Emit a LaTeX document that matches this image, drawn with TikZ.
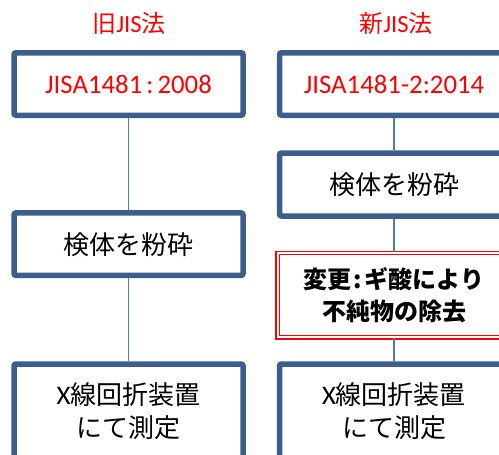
\documentclass[tikz,border=0pt]{standalone}
\usepackage{fontspec}
\setmainfont{Carlito}[Scale=1.03]
\newfontfamily\jp{Noto Sans CJK JP}
\definecolor{boxblue}{HTML}{3B5E8C}
\definecolor{linkblue}{HTML}{4A7EBB}
\definecolor{titlered}{HTML}{FF0000}
\tikzset{
  stepbox/.style={draw=boxblue, line width=5.5pt, rounded corners=2pt, fill=white,
    minimum width=229pt, inner sep=0pt, align=center,
    font=\fontsize{26}{33}\selectfont},
  changebox/.style={draw=titlered, double=white, double distance=2pt, line width=1.4pt,
    fill=white, minimum width=233pt, inner sep=0pt, align=center,
    font=\fontsize{24}{32}\selectfont\bfseries},
  title/.style={text=titlered, inner sep=0pt, font=\fontsize{24}{28}\selectfont},
  link/.style={draw=linkblue, line width=1.5pt}
}
\begin{document}
\begin{tikzpicture}[x=1pt,y=-1pt]
\clip (0,0) rectangle (499,455);
\fill[white] (0,0) rectangle (499,455);
\coordinate (lcol) at (128.5,0);
\coordinate (rcol) at (394,0);
% left column
\node[title] (ltitle) at (129,23) {{\jp 旧}JIS{\jp 法}};
\node[stepbox, minimum height=62.5pt, text=titlered] (lb1) at (128.5,84) {JISA1481\hspace{4pt}:\hspace{4pt}2008};
\node[stepbox, minimum height=62.5pt] (lb2) at (128.5,244.2) {\jp 検体を粉砕};
\node[stepbox, minimum height=94pt] (lb3) at (128.5,411) {X{\jp 線回折装置}\\{\jp にて測定}};
% right column
\node[title] (rtitle) at (396,23) {{\jp 新}JIS{\jp 法}};
\node[stepbox, minimum height=62.5pt, text=titlered] (rb1) at (394,84) {JISA1481-2:2014};
\node[stepbox, minimum height=63pt] (rb2) at (394,184.5) {\jp 検体を粉砕};
\node[changebox, minimum height=84.5pt] (rb3) at (394,295.2) {{\jp 変更}\hspace{2pt}{\jp :}\hspace{3pt}{\jp ギ酸により}\\{\jp 不純物の除去}};
\node[stepbox, minimum height=94pt] (rb4) at (394,411) {X{\jp 線回折装置}\\{\jp にて測定}};
% links
\draw[link] (lb1.south -| lcol) -- (lb2.north -| lcol);
\draw[link] (lb2.south -| lcol) -- (lb3.north -| lcol);
\draw[link] (rb1.south -| rcol) -- (rb2.north -| rcol);
\draw[link] (rb2.south -| rcol) -- (rb3.north -| rcol);
\draw[link] (rb3.south -| rcol) -- (rb4.north -| rcol);
\end{tikzpicture}
\end{document}
